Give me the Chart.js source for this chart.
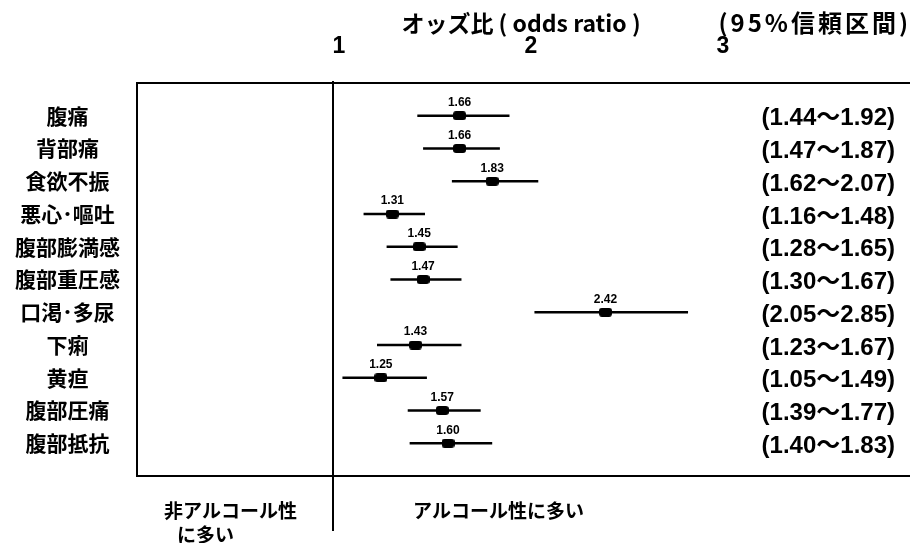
<!DOCTYPE html>
<html>
<head>
<meta charset="utf-8">
<script src="https://cdn.jsdelivr.net/npm/chart.js@4/dist/chart.umd.min.js"></script>
<style>
  html, body { margin: 0; padding: 0; background: #fff; }
  #wrap { width: 910px; height: 543px; }
</style>
</head>
<body>
<div id="wrap"><canvas id="c" width="910" height="543"></canvas></div>
<script>
// Symptoms (top to bottom)
const symptoms = ['腹痛', '背部痛', '食欲不振', '悪心･嘔吐', '腹部膨満感', '腹部重圧感', '口渇･多尿', '下痢', '黄疸', '腹部圧痛', '腹部抵抗'];
// Odds ratios and 95% confidence limits
const oddsRatio = [1.66, 1.66, 1.83, 1.31, 1.45, 1.47, 2.42, 1.43, 1.25, 1.57, 1.60];
const ciLow     = [1.44, 1.47, 1.62, 1.16, 1.28, 1.30, 2.05, 1.23, 1.05, 1.39, 1.40];
const ciHigh    = [1.92, 1.87, 2.07, 1.48, 1.65, 1.67, 2.85, 1.67, 1.49, 1.77, 1.83];
// Axis tick values
const xTicks = [1, 2, 3];

const JP = "'Noto Sans CJK JP', 'Noto Sans', sans-serif";
const NARROW = "'Liberation Sans Narrow', 'Liberation Sans', 'Noto Sans CJK JP', sans-serif";

// Interval segments, separated by gaps
const ciSegments = [];
symptoms.forEach((_, i) => {
  ciSegments.push({ x: ciLow[i], y: i }, { x: ciHigh[i], y: i }, { x: null, y: null });
});
const orPoints = symptoms.map((_, i) => ({ x: oddsRatio[i], y: i }));

// Rounded rectangular marker
const marker = document.createElement('canvas');
marker.width = 13; marker.height = 9;
(function () {
  const m = marker.getContext('2d');
  m.fillStyle = '#000';
  m.beginPath();
  m.roundRect(0, 0, 13, 9, 3);
  m.fill();
})();

const framePlugin = {
  id: 'frame',
  beforeDatasetsDraw(chart) {
    const { ctx, chartArea: a, scales: { x } } = chart;
    ctx.save();
    ctx.strokeStyle = '#000';
    ctx.lineWidth = 2;
    ctx.beginPath();
    ctx.moveTo(chart.width, a.top);
    ctx.lineTo(a.left, a.top);
    ctx.lineTo(a.left, a.bottom);
    ctx.lineTo(chart.width, a.bottom);
    ctx.stroke();
    // reference line at OR = 1
    const x1 = Math.round(x.getPixelForValue(1));
    ctx.beginPath();
    ctx.moveTo(x1, a.top - 2);
    ctx.lineTo(x1, 531);
    ctx.stroke();
    ctx.restore();
  },
  afterDraw(chart) {
    const { ctx, scales: { y } } = chart;
    const pts = chart.getDatasetMeta(1).data;
    ctx.save();
    ctx.fillStyle = '#000';
    // value labels above markers
    ctx.font = "bold 12px " + NARROW;
    ctx.textAlign = 'center';
    ctx.textBaseline = 'middle';
    pts.forEach((p, i) => ctx.fillText(oddsRatio[i].toFixed(2), p.x, p.y - 13));
    // confidence interval text
    ctx.font = "bold 24px " + NARROW;
    ctx.textAlign = 'right';
    symptoms.forEach((_, i) => {
      ctx.fillText('(' + ciLow[i].toFixed(2) + '〜' + ciHigh[i].toFixed(2) + ')', 895, y.getPixelForValue(i) + 3);
    });
    // header on the right
    ctx.font = "bold 24px " + JP;
    ctx.letterSpacing = '3px';
    ctx.fillText('(95%信頼区間)', 911, 23);
    ctx.letterSpacing = '0px';
    // direction notes under the frame
    ctx.font = "bold 19px " + JP;
    ctx.textAlign = 'left';
    ctx.fillText('非アルコール性', 164, 511);
    ctx.fillText('に多い', 177, 535);
    ctx.fillText('アルコール性に多い', 413, 511);
    ctx.restore();
  }
};

new Chart(document.getElementById('c'), {
  type: 'scatter',
  data: {
    datasets: [
      {
        type: 'line',
        label: '95%信頼区間',
        data: ciSegments,
        borderColor: '#000',
        borderWidth: 2.5,
        pointRadius: 0,
        spanGaps: false,
        fill: false,
        order: 2
      },
      {
        type: 'scatter',
        label: 'オッズ比',
        data: orPoints,
        pointStyle: marker,
        backgroundColor: '#000',
        borderColor: '#000',
        order: 1
      }
    ]
  },
  options: {
    responsive: false,
    animation: false,
    layout: { padding: { top: 0, right: 0, bottom: 67, left: 0 } },
    plugins: { legend: { display: false }, tooltip: { enabled: false } },
    scales: {
      x: {
        type: 'linear',
        position: 'top',
        min: -0.02,
        max: 3.98,
        afterBuildTicks: s => { s.ticks = xTicks.map(v => ({ value: v })); },
        afterFit: s => { s.height = 83; },
        grid: { display: false },
        border: { display: false },
        ticks: {
          color: '#000',
          padding: 15,
          labelOffset: 6,
          maxRotation: 0,
          font: { family: NARROW, size: 23, weight: 'bold' }
        },
        title: {
          display: true,
          text: 'オッズ比 ( odds ratio )',
          color: '#000',
          padding: { top: 9, bottom: 0 },
          font: { family: JP, size: 23, weight: 'bold' }
        }
      },
      y: {
        type: 'linear',
        reverse: true,
        min: -1,
        max: 11,
        afterBuildTicks: s => { s.ticks = symptoms.map((_, i) => ({ value: i })); },
        afterFit: s => { s.width = 137; },
        grid: { display: false },
        border: { display: false },
        ticks: {
          color: '#000',
          crossAlign: 'center',
          padding: 9,
          callback: v => symptoms[v],
          font: { family: JP, size: 21, weight: 'bold' }
        }
      }
    }
  },
  plugins: [framePlugin]
});
</script>
</body>
</html>
